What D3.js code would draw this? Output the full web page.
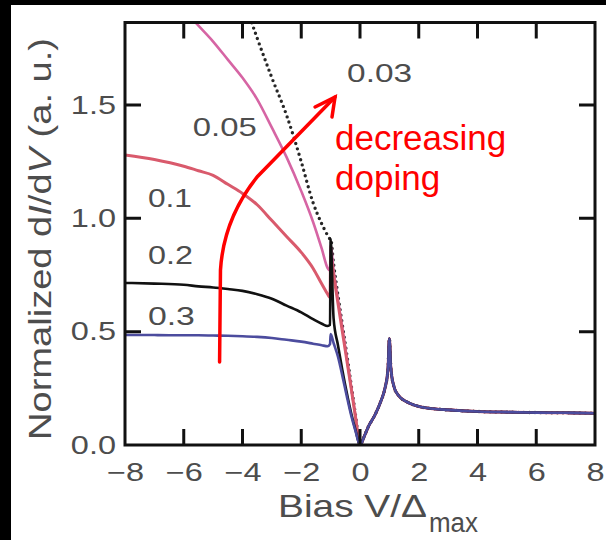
<!DOCTYPE html>
<html>
<head>
<meta charset="utf-8">
<script src="https://cdn.jsdelivr.net/npm/d3@7.9.0/dist/d3.min.js"></script>
<style>
  html, body { margin: 0; padding: 0; background: #fff; }
  svg { display: block; font-family: 'Liberation Sans', Arial, Helvetica, sans-serif; }
</style>
</head>
<body>
<svg id="chart" width="606" height="540"></svg>
<script>
// bias grid, V / Delta_max (negative side down to 0)
const biasNeg = [-8, -7, -6, -5.5, -5, -4.5, -4, -3.5, -3, -2.5, -2, -1.6, -1.3, -1.1, -1.02, -1,
  -0.9, -0.75, -0.6, -0.45, -0.3, -0.15, 0];
// positive side is the same for every doping
const biasPos = [0.15, 0.3, 0.5, 0.7, 0.85, 0.95, 1, 1.05, 1.15, 1.3, 1.6, 2, 2.5, 3, 4, 5, 6, 7, 8];
const positiveBranch = [0.04, 0.085, 0.13, 0.19, 0.25, 0.33, 0.47, 0.34, 0.26, 0.22, 0.19, 0.17,
  0.16, 0.155, 0.148, 0.145, 0.143, 0.142, 0.14];

const dopings = ['0.03', '0.05', '0.1', '0.2', '0.3'];
const dIdV003 = [null, null, null, null, null, null, 1.98, 1.795, 1.62, 1.455, 1.25, 1.07, 0.975,
  0.925, 0.91, 0.91, 0.80, 0.66, 0.53, 0.40, 0.265, 0.13, 0];
const dIdV005 = [null, null, 1.92, 1.85, 1.78, 1.70, 1.62, 1.525, 1.40, 1.27, 1.12, 0.985, 0.865,
  0.78, 0.77, 0.88, 0.77, 0.64, 0.515, 0.385, 0.255, 0.125, 0];
const dIdV01 = [1.28, 1.26, 1.23, 1.21, 1.19, 1.15, 1.11, 1.06, 0.99, 0.92, 0.85, 0.78, 0.71, 0.665,
  0.65, 0.83, 0.75, 0.625, 0.50, 0.375, 0.25, 0.12, 0];
const dIdV02 = [0.715, 0.712, 0.707, 0.70, 0.695, 0.688, 0.68, 0.665, 0.645, 0.615, 0.585, 0.555,
  0.535, 0.525, 0.53, 0.91, 0.56, 0.44, 0.33, 0.23, 0.14, 0.065, 0];
const dIdV03 = [0.485, 0.485, 0.484, 0.484, 0.483, 0.482, 0.48, 0.477, 0.472, 0.464, 0.456, 0.447,
  0.44, 0.436, 0.445, 0.49, 0.45, 0.39, 0.305, 0.215, 0.13, 0.06, 0];

const xTicks = [-8, -6, -4, -2, 0, 2, 4, 6, 8];
const yTicks = [0, 0.5, 1.0, 1.5];

const negSeries = [dIdV003, dIdV005, dIdV01, dIdV02, dIdV03];
const colors = ['#262626', '#d665a4', '#d95a6c', '#111111', '#4c4c9e'];
const widths = [3.4, 2.6, 3, 2.6, 2.6];
// label anchors in data units (bias, dI/dV) and drawn widths
const labelAt = [[-0.44, 1.60], [-5.69, 1.363], [-7.22, 1.05], [-7.22, 0.80], [-7.22, 0.53]];
const labelWidth = [65, 64, 44, 45, 47];

const margin = { top: 22.5, right: 11, bottom: 95, left: 125 };
const W = 606;
const H = 540;
const innerW = W - margin.left - margin.right;
const innerH = H - margin.top - margin.bottom;

const x = d3.scaleLinear().domain([-8, 8]).range([margin.left, margin.left + innerW]);
const y = d3.scaleLinear().domain([0, 1.864]).range([margin.top + innerH, margin.top]);

const svg = d3.select('#chart');
const textGray = '#4d4d4d';

svg.append('rect').attr('width', W).attr('height', H).attr('fill', '#fff');

svg.append('defs').append('clipPath').attr('id', 'plot-clip')
  .append('rect')
  .attr('x', margin.left).attr('y', margin.top)
  .attr('width', innerW).attr('height', innerH);

const bias = biasNeg.concat(biasPos);
const line = d3.line()
  .defined((d) => d[1] != null)
  .x((d) => x(d[0]))
  .y((d) => y(d[1]))
  .curve(d3.curveMonotoneX);

const curves = svg.append('g').attr('clip-path', 'url(#plot-clip)');
negSeries.forEach((values, i) => {
  const pts = bias.map((v, j) => [v, j < values.length ? values[j] : positiveBranch[j - values.length]]);
  const path = curves.append('path')
    .attr('d', line(pts))
    .attr('fill', 'none')
    .attr('stroke', colors[i])
    .attr('stroke-width', widths[i])
    .attr('stroke-linejoin', 'round');
  if (i === 0) {
    path.attr('stroke-dasharray', '0,5.6').attr('stroke-linecap', 'round');
  }
});

// tick labels from d3 axes
const tickLen = 16;
const gx = svg.append('g').attr('transform', `translate(0,${margin.top + innerH})`)
  .call(d3.axisBottom(x).tickValues(xTicks).tickSize(0).tickPadding(18).tickFormat(d3.format('d')));
const gy = svg.append('g').attr('transform', `translate(${margin.left},0)`)
  .call(d3.axisLeft(y).tickValues(yTicks).tickSize(0).tickFormat(d3.format('.1f')));

[gx, gy].forEach((g) => {
  g.select('.domain').remove();
  g.selectAll('line').remove();
  g.selectAll('text').attr('fill', textGray).attr('font-size', 25)
    .attr('font-family', "'Liberation Sans', Arial, sans-serif");
});
gx.selectAll('text').attr('transform', 'scale(1.3,1)');
gy.selectAll('text').attr('x', -9 / 1.3).attr('transform', 'scale(1.3,1)');

// doping labels
dopings.forEach((label, i) => {
  svg.append('text')
    .attr('x', x(labelAt[i][0]))
    .attr('y', y(labelAt[i][1]))
    .attr('font-size', 25)
    .attr('fill', textGray)
    .attr('textLength', labelWidth[i])
    .attr('lengthAdjust', 'spacingAndGlyphs')
    .text(label);
});

// axis titles
svg.append('text')
  .attr('x', 278).attr('y', 517)
  .attr('font-size', 32).attr('fill', textGray)
  .attr('textLength', 149).attr('lengthAdjust', 'spacingAndGlyphs')
  .text('Bias V/\u0394');
svg.append('text')
  .attr('x', 429).attr('y', 532)
  .attr('font-size', 27).attr('fill', textGray)
  .attr('textLength', 49).attr('lengthAdjust', 'spacingAndGlyphs')
  .text('max');

const yTitle = svg.append('text')
  .attr('transform', 'translate(51,239) rotate(-90)')
  .attr('text-anchor', 'middle')
  .attr('font-size', 32).attr('fill', textGray)
  .attr('textLength', 402).attr('lengthAdjust', 'spacingAndGlyphs');
yTitle.append('tspan').text('Normalized d');
yTitle.append('tspan').attr('font-style', 'italic').text('I');
yTitle.append('tspan').text('/d');
yTitle.append('tspan').attr('font-style', 'italic').text('V');
yTitle.append('tspan').text(' (a. u.)');

// red annotation arrow
const red = '#ff0000';
const arrow = d3.path();
arrow.moveTo(x(-4.78), y(0.366));
arrow.lineTo(x(-4.75), y(0.772));
arrow.quadraticCurveTo(x(-4.64), y(1.0), x(-3.48), y(1.186));
arrow.lineTo(x(-0.85), y(1.535));
svg.append('path').attr('d', arrow.toString())
  .attr('fill', 'none').attr('stroke', red).attr('stroke-width', 3.5)
  .attr('stroke-linecap', 'round');

const head = d3.path();
head.moveTo(x(-1.53), y(1.491));
head.lineTo(x(-0.85), y(1.535));
head.lineTo(x(-0.953), y(1.447));
svg.append('path').attr('d', head.toString())
  .attr('fill', 'none').attr('stroke', red).attr('stroke-width', 3.5)
  .attr('stroke-linecap', 'round').attr('stroke-linejoin', 'miter');

svg.append('text').attr('x', 335).attr('y', 150)
  .attr('font-size', 35).attr('fill', red).text('decreasing');
svg.append('text').attr('x', 335).attr('y', 190)
  .attr('font-size', 35).attr('fill', red).text('doping');

// black frame edges of the photo
svg.append('rect').attr('x', 0).attr('y', 0).attr('width', 11).attr('height', H).attr('fill', '#000');
svg.append('rect').attr('x', 0).attr('y', 0).attr('width', W).attr('height', 5).attr('fill', '#000');

// plot frame
const x0 = margin.left;
const x1 = margin.left + innerW;
const y0 = margin.top;
const y1 = margin.top + innerH;
svg.append('rect')
  .attr('x', x0).attr('y', y0)
  .attr('width', innerW).attr('height', innerH)
  .attr('fill', 'none').attr('stroke', '#111').attr('stroke-width', 3);

// inward ticks on all four sides
const tickPath = d3.path();
xTicks.slice(1, -1).forEach((v) => {
  tickPath.moveTo(x(v), y1);
  tickPath.lineTo(x(v), y1 - tickLen);
  tickPath.moveTo(x(v), y0);
  tickPath.lineTo(x(v), y0 + tickLen);
});
yTicks.slice(1).forEach((v) => {
  tickPath.moveTo(x0, y(v));
  tickPath.lineTo(x0 + tickLen, y(v));
  tickPath.moveTo(x1, y(v));
  tickPath.lineTo(x1 - tickLen, y(v));
});
svg.append('path')
  .attr('d', tickPath.toString())
  .attr('fill', 'none')
  .attr('stroke', '#111')
  .attr('stroke-width', 3);
</script>
</body>
</html>
